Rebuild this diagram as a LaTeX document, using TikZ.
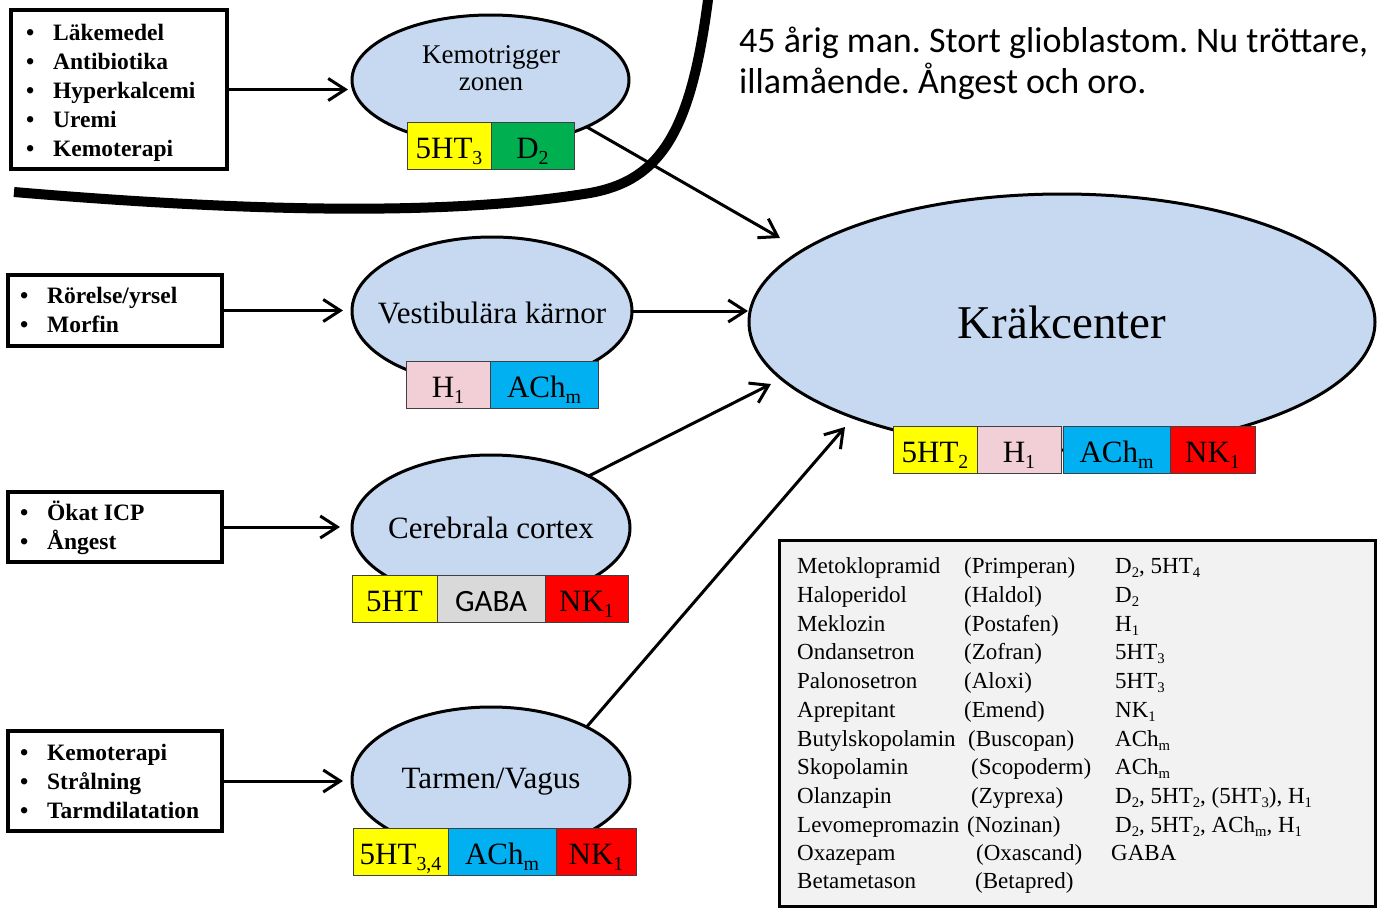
\documentclass[tikz,border=0pt]{standalone}
\usepackage{fontspec}
\setmainfont{Liberation Serif}
\newfontfamily\calibri{Carlito}
\usetikzlibrary{shapes.geometric,arrows.meta}

\definecolor{ovalfill}{RGB}{198,217,241}
\definecolor{ryellow}{RGB}{255,255,0}
\definecolor{rgreen}{RGB}{0,176,80}
\definecolor{rpink}{RGB}{242,206,214}
\definecolor{rcyan}{RGB}{0,176,240}
\definecolor{rred}{RGB}{255,0,0}
\definecolor{rgray}{RGB}{217,217,217}
\definecolor{tablebg}{RGB}{242,242,242}

\makeatletter
\newcommand\lowsub[1]{\raisebox{-0.21em}{\fontsize{\fpeval{0.64*\f@size}}{0}\selectfont #1}}
\makeatother
\newcommand\bul{\makebox[27pt][l]{\textbullet}}
\frenchspacing

\begin{document}
\begin{tikzpicture}[x=1pt,y=-1pt,
  oval/.style={ellipse, draw=black, line width=3pt, fill=ovalfill, inner sep=0, outer sep=0},
  ovaltext/.style={anchor=base, inner sep=0, font=\fontsize{31}{31}\selectfont},
  rec/.style={draw=black!75, line width=0.8pt, inner sep=0, outer sep=0, minimum height=47pt,
    anchor=north west, text height=25pt, text depth=0pt, font=\fontsize{31}{31}\selectfont},
  srcbox/.style={draw=black, line width=3.5pt, inner sep=0, outer sep=0, anchor=north west},
  srclist/.style={anchor=base west, inner sep=0, font=\bfseries\fontsize{23.5}{29}\selectfont},
  flow/.style={line width=3pt, -{Straight Barb[length=17pt,width=22pt]}},
  tabtext/.style={anchor=base west, inner sep=0, font=\fontsize{23}{28}\selectfont}
]
\useasboundingbox (0,0) rectangle (1377,908);

% thick dividing curve around the chemoreceptor trigger zone
\draw[line width=10pt] (14,192) .. controls (250,212) and (450,216) .. (590,193)
  .. controls (662,180) and (692,130) .. (709,-8);

% case description
\node[anchor=base west, inner sep=0, font=\calibri\fontsize{36}{38}\selectfont] (case) at (739,52)
  {\begin{tabular}[t]{@{}l@{}}45 årig man. Stort glioblastom. Nu tröttare,\\ illamående. Ångest och oro.\end{tabular}};

% cause lists
\node[srcbox, minimum width=216pt, minimum height=159pt] (src1) at (11,10) {};
\node[srclist] (lst1) at (26,40) {\begin{tabular}[t]{@{}l@{}}\bul Läkemedel\\ \bul Antibiotika\\ \bul Hyperkalcemi\\ \bul Uremi\\ \bul Kemoterapi\end{tabular}};

\node[srcbox, minimum width=214pt, minimum height=71pt] (src2) at (8,275) {};
\node[srclist] (lst2) at (20,303) {\begin{tabular}[t]{@{}l@{}}\bul Rörelse/yrsel\\ \bul Morfin\end{tabular}};

\node[srcbox, minimum width=214pt, minimum height=70pt] (src3) at (8,492) {};
\node[srclist] (lst3) at (20,520) {\begin{tabular}[t]{@{}l@{}}\bul Ökat ICP\\ \bul Ångest\end{tabular}};

\node[srcbox, minimum width=214pt, minimum height=100pt] (src4) at (8,731) {};
\node[srclist] (lst4) at (20,760) {\begin{tabular}[t]{@{}l@{}}\bul Kemoterapi\\ \bul Strålning\\ \bul Tarmdilatation\end{tabular}};

% centres
\node[oval, minimum width=277pt, minimum height=130pt] (kemo) at (490.5,80) {};
\node[anchor=base, inner sep=0, font=\fontsize{27}{27}\selectfont] (kemoT) at (491,63)
  {\begin{tabular}[t]{@{}c@{}}Kemotrigger\\ zonen\end{tabular}};
\node[oval, minimum width=280pt, minimum height=148pt] (vest) at (492,311) {};
\node[ovaltext] (vestT) at (492,323) {Vestibulära kärnor};
\node[oval, minimum width=278pt, minimum height=146pt] (cereb) at (491,528) {};
\node[ovaltext] (cerebT) at (491,538) {Cerebrala cortex};
\node[oval, minimum width=278pt, minimum height=146pt] (tarm) at (491,780) {};
\node[ovaltext] (tarmT) at (491,788) {Tarmen/Vagus};
\node[oval, minimum width=626pt, minimum height=256pt] (krak) at (1062,322) {};
\node[anchor=base, inner sep=0, font=\fontsize{47}{47}\selectfont] (krakT) at (1062,338) {Kräkcenter};

% receptors
\node[rec, fill=ryellow, minimum width=84pt] (r11) at (407,122) {5HT\lowsub{3}};
\node[rec, fill=rgreen, minimum width=83pt] (r12) at (491,122) {D\lowsub{2}};

\node[rec, fill=rpink, minimum width=84pt] (r21) at (406,361) {H\lowsub{1}};
\node[rec, fill=rcyan, minimum width=108pt] (r22) at (490,361) {ACh\lowsub{m}};

\node[rec, fill=ryellow, minimum width=85pt] (r31) at (352,575) {5HT};
\node[rec, fill=rgray, minimum width=108pt] (r32) at (437,575) {\calibri GABA};
\node[rec, fill=rred, minimum width=83pt] (r33) at (545,575) {NK\lowsub{1}};

\node[rec, fill=ryellow, minimum width=95pt] (r41) at (353,828) {5HT\lowsub{3,4}};
\node[rec, fill=rcyan, minimum width=108pt] (r42) at (448,828) {ACh\lowsub{m}};
\node[rec, fill=rred, minimum width=80pt] (r43) at (556,828) {NK\lowsub{1}};

\node[rec, fill=ryellow, minimum width=84pt] (r51) at (893,426) {5HT\lowsub{2}};
\node[rec, fill=rpink, minimum width=84pt] (r52) at (977,426) {H\lowsub{1}};
\node[rec, fill=rcyan, minimum width=107pt] (r53) at (1063,426) {ACh\lowsub{m}};
\node[rec, fill=rred, minimum width=85pt] (r54) at (1170,426) {NK\lowsub{1}};

% connectors
\coordinate (in1) at (780,238);
\coordinate (in3) at (771,384);
\coordinate (in4) at (845,427);
\draw[flow, shorten >=4pt] (src1.east) -- (src1.east -| kemo.west);
\draw[flow, shorten >=9pt] (src2.east) -- (src2.east -| vest.west);
\draw[flow, shorten >=12pt] (src3.east) -- (src3.east -| cereb.west);
\draw[flow, shorten >=9pt] (src4.east) -- (src4.east -| tarm.west);
\draw[flow] (kemo.-26) -- (in1);
\draw[flow, shorten >=1pt] (vest.east) -- (vest.east -| krak.west);
\draw[flow] (cereb.28) -- (in3);
\draw[flow] (tarm.29) -- (in4);

% drug table
\node[draw=black, line width=3pt, fill=tablebg, anchor=north west, inner sep=0, outer sep=0,
  minimum width=596pt, minimum height=366pt] (tbl) at (779,540) {};
\foreach \i/\yy/\bx/\cx/\drug/\brand/\rcp in {
  1/573/964/1115/Metoklopramid/{(Primperan)}/{D\lowsub{2}, 5HT\lowsub{4}},
  2/602/964/1115/Haloperidol/{(Haldol)}/{D\lowsub{2}},
  3/631/964/1115/Meklozin/{(Postafen)}/{H\lowsub{1}},
  4/659/964/1115/Ondansetron/{(Zofran)}/{5HT\lowsub{3}},
  5/688/964/1115/Palonosetron/{(Aloxi)}/{5HT\lowsub{3}},
  6/717/964/1115/Aprepitant/{(Emend)}/{NK\lowsub{1}},
  7/746/968/1115/Butylskopolamin/{(Buscopan)}/{ACh\lowsub{m}},
  8/774/971/1115/Skopolamin/{(Scopoderm)}/{ACh\lowsub{m}},
  9/803/971/1115/Olanzapin/{(Zyprexa)}/{D\lowsub{2}, 5HT\lowsub{2}, (5HT\lowsub{3}), H\lowsub{1}},
  10/832/967/1115/Levomepromazin/{(Nozinan)}/{D\lowsub{2}, 5HT\lowsub{2}, ACh\lowsub{m}, H\lowsub{1}},
  11/860/976/1111/Oxazepam/{(Oxascand)}/{GABA},
  12/888/975/1115/Betametason/{(Betapred)}/{}}
{
  \node[tabtext] (drug\i) at (797,\yy) {\drug};
  \node[tabtext] (brand\i) at (\bx,\yy) {\brand};
  \node[tabtext] (rcp\i) at (\cx,\yy) {\rcp};
}
\end{tikzpicture}
\end{document}
